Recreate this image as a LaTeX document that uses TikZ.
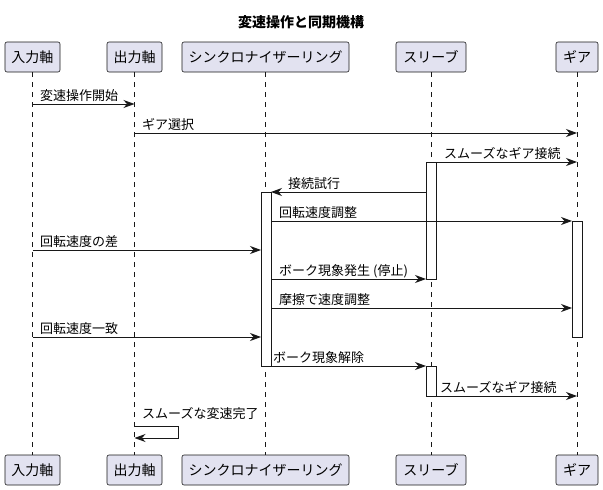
\documentclass[tikz,border=0pt]{standalone}
\usepackage{fontspec}
\setmainfont{Noto Sans CJK JP}
\usetikzlibrary{arrows.meta}
\definecolor{pfill}{HTML}{E2E2F0}
\definecolor{pline}{HTML}{181818}
\begin{document}
\begin{tikzpicture}[x=1pt,y=-1pt,
  part/.style={draw=pline, fill=pfill, rounded corners=2pt, minimum height=30pt, inner sep=0pt, font=\fontsize{14}{16}\selectfont, line width=0.6pt},
  life/.style={draw=pline, dash pattern=on 5pt off 5pt, line width=0.5pt},
  act/.style={draw=pline, fill=white, line width=0.8pt},
  msg/.style={draw=pline, line width=0.8pt, -{Stealth[length=11pt,width=8pt,inset=3.5pt]}},
  lbl/.style={anchor=base west, inner sep=0pt, font=\fontsize{13}{15}\selectfont}]
\useasboundingbox (0,0) rectangle (603,490);
\node[font=\bfseries\fontsize{14}{16}\selectfont] (title) at (301,22) {変速操作と同期機構};
% participants top
\node[part, minimum width=55pt] (in-t) at (32.5,57) {入力軸};
\node[part, minimum width=55pt] (out-t) at (134.5,57) {出力軸};
\node[part, minimum width=167pt] (syn-t) at (265.5,57) {シンクロナイザーリング};
\node[part, minimum width=70pt] (slv-t) at (431,57) {スリーブ};
\node[part, minimum width=42pt] (gear-t) at (577,57) {ギア};
% participants bottom
\node[part, minimum width=55pt] (in-b) at (32.5,470) {入力軸};
\node[part, minimum width=55pt] (out-b) at (134.5,470) {出力軸};
\node[part, minimum width=167pt] (syn-b) at (265.5,470) {シンクロナイザーリング};
\node[part, minimum width=70pt] (slv-b) at (431,470) {スリーブ};
\node[part, minimum width=42pt] (gear-b) at (577,470) {ギア};
% lifelines
\draw[life] (in-t.south) -- (in-b.north);
\draw[life] (out-t.south) -- (out-b.north);
\draw[life] (syn-t.south) -- (syn-b.north);
\draw[life] (slv-t.south) -- (slv-b.north);
\draw[life] (gear-t.south) -- (gear-b.north);
% activations
\draw[act] (426,162) rectangle (436,279);
\draw[act] (426,366) rectangle (436,396);
\draw[act] (261,192) rectangle (271,366);
\draw[act] (572,221) rectangle (582,337);
% message coordinates
\coordinate (m1s) at (32.5,104);  \coordinate (m1e) at (134.5,104);
\coordinate (m2s) at (134.5,133); \coordinate (m2e) at (577,133);
\coordinate (m3s) at (436,162);   \coordinate (m3e) at (577,162);
\coordinate (m4s) at (426,192);   \coordinate (m4e) at (271,192);
\coordinate (m5s) at (271,221);   \coordinate (m5e) at (572,221);
\coordinate (m6s) at (32.5,250);  \coordinate (m6e) at (261,250);
\coordinate (m7s) at (271,279);   \coordinate (m7e) at (426,279);
\coordinate (m8s) at (271,308);   \coordinate (m8e) at (572,308);
\coordinate (m9s) at (32.5,337);  \coordinate (m9e) at (261,337);
\coordinate (m10s) at (271,366);  \coordinate (m10e) at (426,366);
\coordinate (m11s) at (436,396);  \coordinate (m11e) at (577,396);
\coordinate (m12s) at (134.5,426); \coordinate (m12a) at (178,426);
\coordinate (m12b) at (178,438);  \coordinate (m12e) at (134.5,438);
% messages
\draw[msg] (m1s) -- (m1e);
\draw[msg] (m2s) -- (m2e);
\draw[msg] (m3s) -- (m3e);
\draw[msg] (m4s) -- (m4e);
\draw[msg] (m5s) -- (m5e);
\draw[msg] (m6s) -- (m6e);
\draw[msg] (m7s) -- (m7e);
\draw[msg] (m8s) -- (m8e);
\draw[msg] (m9s) -- (m9e);
\draw[msg] (m10s) -- (m10e);
\draw[msg] (m11s) -- (m11e);
\draw[msg] (m12s) -- (m12a) -- (m12b) -- (m12e);
% labels
\node[lbl] (l1) at (40,100.5) {変速操作開始};
\node[lbl] (l2) at (142,129.5) {ギア選択};
\node[lbl] (l3) at (444,158.5) {スムーズなギア接続};
\node[lbl] (l4) at (288,188.5) {接続試行};
\node[lbl] (l5) at (279,217.5) {回転速度調整};
\node[lbl] (l6) at (40,246.5) {回転速度の差};
\node[lbl] (l7) at (279,275.5) {ボーク現象発生 (停止)};
\node[lbl] (l8) at (279,304.5) {摩擦で速度調整};
\node[lbl] (l9) at (40,333.5) {回転速度一致};
\node[lbl] (l10) at (273,362.5) {ボーク現象解除};
\node[lbl] (l11) at (440,392.5) {スムーズなギア接続};
\node[lbl] (l12) at (142,418) {スムーズな変速完了};
\end{tikzpicture}
\end{document}
